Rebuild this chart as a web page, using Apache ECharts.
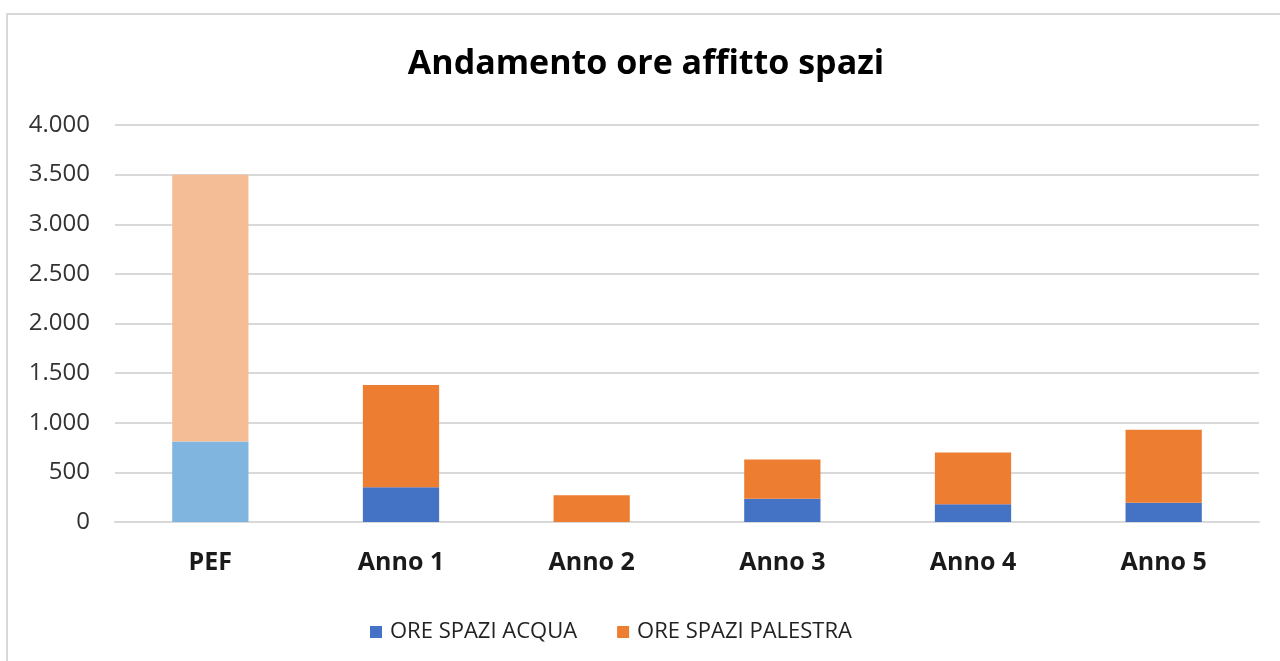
<!DOCTYPE html>
<html>
<head>
<meta charset="utf-8">
<script src="https://cdn.jsdelivr.net/npm/echarts@6/dist/echarts.min.js"></script>
<style>
  html, body { margin: 0; padding: 0; background: #fff; }
  #chart { width: 1280px; height: 661px; }
</style>
</head>
<body>
<div id="chart"></div>
<script>
  // dati
  var categories = ['PEF', 'Anno 1', 'Anno 2', 'Anno 3', 'Anno 4', 'Anno 5'];
  var oreAcqua = [810, 350, 0, 235, 180, 195];
  var orePalestra = [2690, 1030, 270, 395, 520, 735];

  var blue = '#4472c4', orange = '#ed7d31';
  var blueLight = '#7fb5df', orangeLight = '#f5bd96';

  function withPef(values, light) {
    return values.map(function (v, i) {
      if (i === 0) return { value: v, itemStyle: { color: light } };
      return v;
    });
  }

  var dom = document.getElementById('chart');
  var chart = echarts.init(dom);
  var option = {
    backgroundColor: '#fff',
    animation: false,
    graphic: [{
      type: 'rect',
      shape: { x: 7, y: 14, width: 1300, height: 700 },
      style: { fill: 'none', stroke: '#d9d9d9', lineWidth: 2 }
    }],
    title: {
      text: 'Andamento ore affitto spazi',
      left: 641,
      textAlign: 'center',
      top: 42,
      textStyle: {
        fontFamily: 'Open Sans',
        fontWeight: 'bold',
        fontSize: 34,
        color: '#000'
      }
    },
    legend: {
      left: 365,
      top: 616,
      itemWidth: 12,
      itemHeight: 12,
      itemGap: 40,
      icon: 'rect',
      textStyle: {
        fontFamily: 'Open Sans',
        fontSize: 22,
        color: '#222',
        padding: [0, 0, 0, 3]
      },
      data: ['ORE SPAZI ACQUA', 'ORE SPAZI PALESTRA']
    },
    grid: {
      left: 115,
      right: 21,
      top: 125,
      bottom: 139,
      containLabel: false
    },
    xAxis: {
      type: 'category',
      data: categories,
      axisTick: { show: false },
      axisLine: { lineStyle: { color: '#d9d9d9', width: 2 } },
      axisLabel: {
        margin: 28,
        fontFamily: 'Open Sans',
        fontWeight: 'bold',
        fontSize: 25,
        color: '#1a1a1a'
      }
    },
    yAxis: {
      type: 'value',
      min: 0,
      max: 4000,
      interval: 500,
      axisLine: { show: false },
      axisTick: { show: false },
      splitLine: { lineStyle: { color: '#d9d9d9', width: 2 } },
      axisLabel: {
        margin: 25,
        fontFamily: 'Open Sans',
        fontSize: 24,
        color: '#333',
        formatter: function (v) {
          return v >= 1000 ? String(v).replace(/(\d)(\d{3})$/, '$1.$2') : String(v);
        }
      }
    },
    series: [{
      name: 'ORE SPAZI ACQUA',
      type: 'bar',
      stack: 'ore',
      barWidth: '40%',
      itemStyle: { color: blue },
      data: withPef(oreAcqua, blueLight)
    }, {
      name: 'ORE SPAZI PALESTRA',
      type: 'bar',
      stack: 'ore',
      barWidth: '40%',
      itemStyle: { color: orange },
      data: withPef(orePalestra, orangeLight)
    }]
  };
  chart.setOption(option);
</script>
</body>
</html>
